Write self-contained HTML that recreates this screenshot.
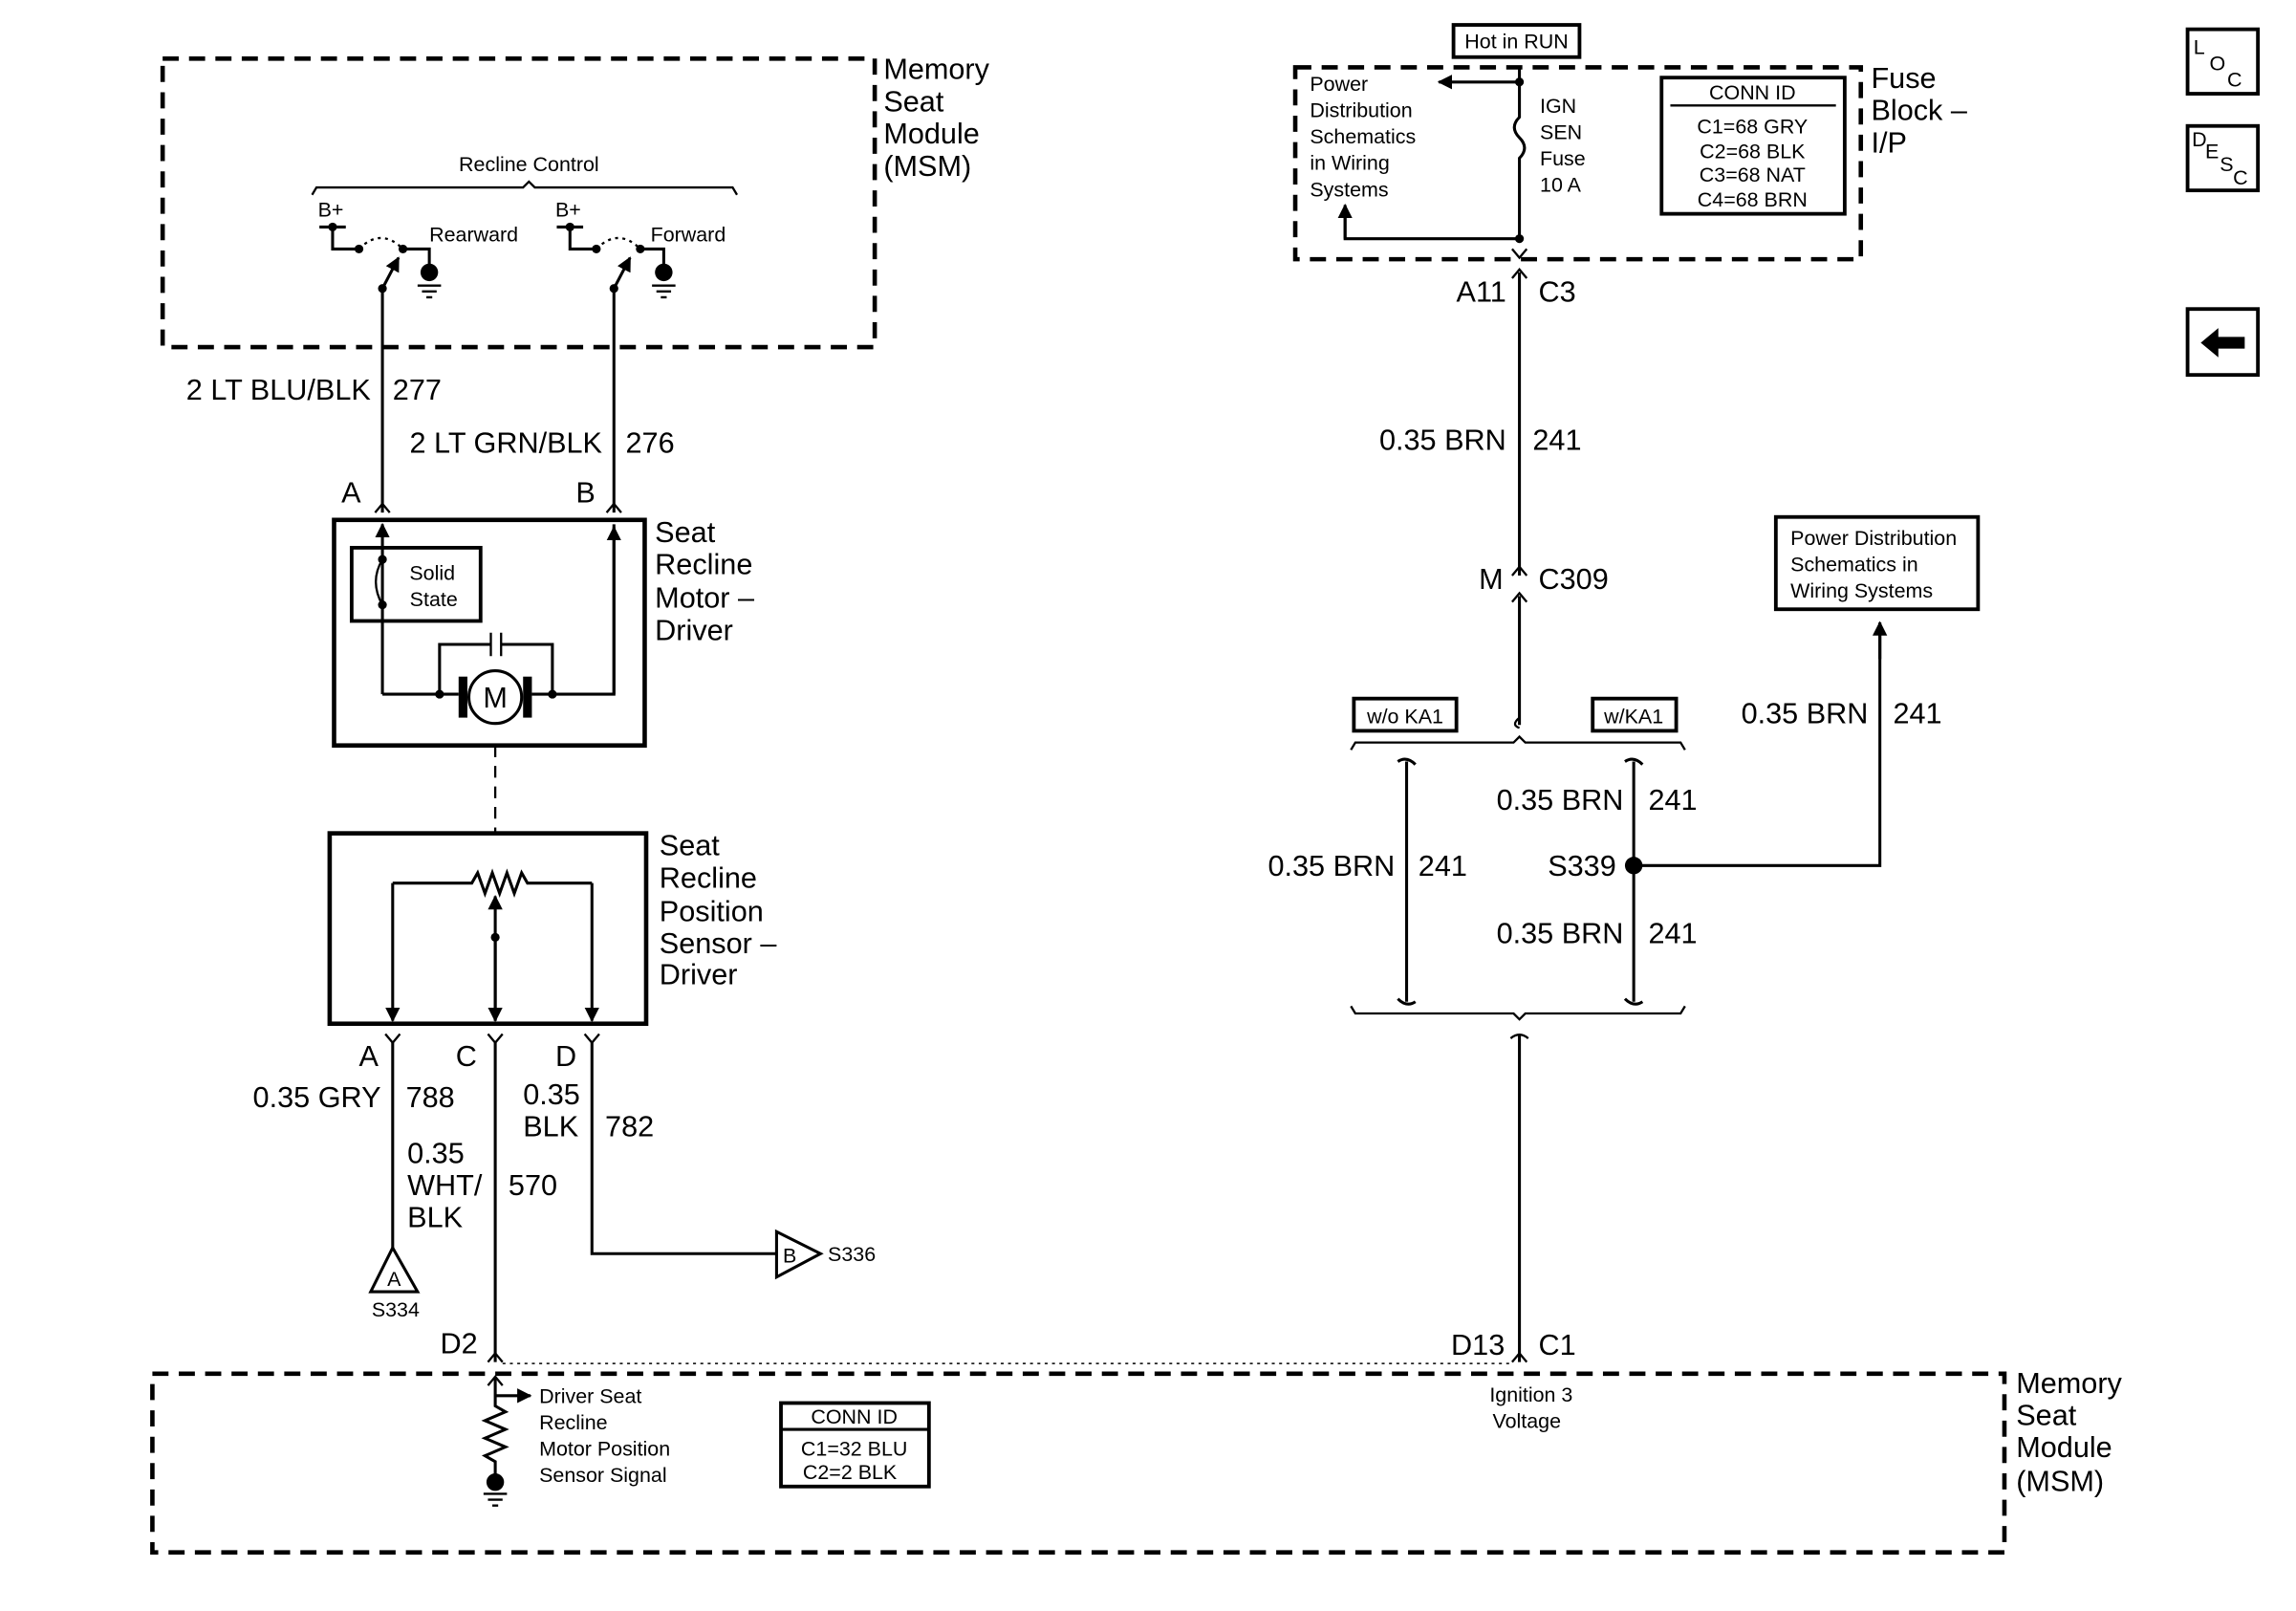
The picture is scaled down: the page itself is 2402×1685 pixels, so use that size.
<!DOCTYPE html>
<html><head><meta charset="utf-8"><style>
html,body{margin:0;padding:0;background:#fff;}
svg{display:block;}
text{font-family:"Liberation Sans",Arial,sans-serif;fill:#000;}
.L{font-size:20px;}
.S{font-size:14px;}
</style></head><body>
<svg width="2402" height="1685" viewBox="0 0 1567 1100" preserveAspectRatio="none" xmlns="http://www.w3.org/2000/svg">
<defs>
<marker id="ah" viewBox="0 0 10 10" refX="9" refY="5" markerWidth="5" markerHeight="5" orient="auto"><path d="M0,0L10,5L0,10z" fill="#000"/></marker>
</defs>
<g fill="none" stroke="#000" stroke-width="2">
<rect x="111" y="40" width="486" height="197" stroke-width="3" stroke-dasharray="11,7"/>
<path d="M213,133 L216,128 L357,128 L361,124 L365,128 L500,128 L503,133" stroke-width="1.5"/>
<path d="M218,155 L236,155 M227,155 L227,170 L245,170"/>
<path d="M245,170 Q260,155 275,170" stroke-dasharray="2,3" stroke-width="1.5"/>
<path d="M275,170 L293,170 L293,183"/>
<path d="M261,350 L261,197 L272,176" marker-end="url(#ah)"/>
<path d="M285,195 L301,195 M288,199 L298,199 M291,203 L295,203" stroke-width="1.5"/>
<path d="M380,155 L398,155 M389,155 L389,170 L407,170"/>
<path d="M407,170 Q422,155 437,170" stroke-dasharray="2,3" stroke-width="1.5"/>
<path d="M437,170 L453,170 L453,183"/>
<path d="M419,350 L419,197 L430,176" marker-end="url(#ah)"/>
<path d="M445,195 L461,195 M448,199 L458,199 M451,203 L455,203" stroke-width="1.5"/>
<path d="M256,350 L261,344 L266,350 M414,350 L419,344 L424,350" stroke-width="1.5"/>
<rect x="228" y="355" width="212" height="154" stroke-width="3"/>
<rect x="240" y="374" width="88" height="50" stroke-width="2.5"/>
<path d="M261,474 L261,358" marker-end="url(#ah)"/>
<path d="M261,382 Q252,397 261,413" stroke-width="1.5"/>
<path d="M261,474 L300,474 M300,474 L300,440 L335,440 M342,440 L377,440 L377,474 M377,474 L419,474 L419,358" />
<path d="M419,474 L419,360" marker-end="url(#ah)"/>
<path d="M335,432 L335,448 M342,432 L342,448" stroke-width="1.5"/>
<path d="M300,474 L313,474 M363,474 L377,474"/>
<path d="M338,509 L338,569" stroke-dasharray="8,6" stroke-width="1.5"/>
<rect x="225" y="569" width="216" height="130" stroke-width="3"/>
<path d="M268,603 L268,697" marker-end="url(#ah)"/>
<path d="M404,603 L404,697" marker-end="url(#ah)"/>
<path d="M268,603 L322,603 L326,596 L331,610 L336,596 L341,610 L346,596 L351,610 L356,596 L360,603 L404,603"/>
<path d="M338,697 L338,612" marker-end="url(#ah)"/>
<path d="M338,640 L338,697" marker-end="url(#ah)"/>
<path d="M263,706 L268,712 L273,706 M333,706 L338,712 L343,706 M399,706 L404,712 L409,706" stroke-width="1.5"/>
<path d="M268,712 L268,852 M404,712 L404,856 L530,856 M338,712 L338,930"/>
<path d="M268,852 L253,882 L285,882 Z"/>
<path d="M530,841 L560,856 L530,872 Z"/>
<path d="M333,930 L338,924 L343,930" stroke-width="1.5"/>
<path d="M343,931 L1033,931" stroke-dasharray="2,3" stroke-width="1"/>
<rect x="104" y="938" width="1264" height="122" stroke-width="3" stroke-dasharray="11,7"/>
<path d="M333,946 L338,940 L343,946" stroke-width="1.5"/>
<path d="M338,940 L338,960 L345,964 L331,970 L345,976 L331,982 L345,988 L331,994 L338,998 L338,1007"/>
<path d="M338,953 L362,953" marker-end="url(#ah)"/>
<path d="M330,1020 L346,1020 M333,1024 L343,1024 M336,1028 L340,1028" stroke-width="1.5"/>
<rect x="533" y="958" width="101" height="57" stroke-width="2.5"/>
<path d="M533,976 L634,976" stroke-width="2"/>
<rect x="884" y="46" width="386" height="131" stroke-width="3" stroke-dasharray="11,7"/>
<rect x="992" y="17" width="86" height="22" stroke-width="2.5"/>
<path d="M1037,46 L1037,56 L982,56" marker-end="url(#ah)"/>
<path d="M1037,56 L1037,80 Q1030,87 1037,94 Q1044,101 1037,108 L1037,163 L918,163 L918,142"/>
<path d="M918,163 L918,140" marker-end="url(#ah)"/>
<path d="M1032,170 L1037,176 L1042,170" stroke-width="1.5"/>
<rect x="1134" y="53" width="125" height="93" stroke-width="2.5"/>
<path d="M1140,72 L1253,72" stroke-width="1.5"/>
<path d="M1032,190 L1037,184 L1042,190" stroke-width="1.5"/>
<path d="M1037,186 L1037,393"/>
<path d="M1032,393 L1037,387 L1042,393 M1032,411 L1037,405 L1042,411" stroke-width="1.5"/>
<path d="M1037,407 L1037,495"/>
<path d="M1037,490 Q1031,495 1037,497" stroke-width="1.5"/>
<rect x="924" y="477" width="70" height="22" stroke-width="2.5"/>
<rect x="1087" y="477" width="57" height="22" stroke-width="2.5"/>
<path d="M922,512 L925,507 L1033,507 L1037,503 L1041,507 L1147,507 L1150,512" stroke-width="1.5"/>
<path d="M960,520 L960,684 M954,520 Q960,516 966,522 M954,682 Q960,688 966,684"/>
<path d="M1115,520 L1115,684 M1109,520 Q1115,516 1121,522 M1109,682 Q1115,688 1121,684"/>
<path d="M1115,591 L1283,591 L1283,427"/>
<path d="M1283,450 L1283,425" marker-end="url(#ah)"/>
<rect x="1212" y="353" width="138" height="63" stroke-width="2.5"/>
<path d="M922,687 L925,692 L1033,692 L1037,696 L1041,692 L1147,692 L1150,687" stroke-width="1.5"/>
<path d="M1031,709 Q1037,704 1043,709" stroke-width="1.5"/>
<path d="M1037,707 L1037,930"/>
<path d="M1032,930 L1037,924 L1042,930" stroke-width="1.5"/>
<rect x="1493" y="20" width="48" height="44" stroke-width="2.5"/>
<rect x="1493" y="86" width="48" height="44" stroke-width="2.5"/>
<rect x="1493" y="211" width="48" height="45" stroke-width="2.5"/>
</g>
<g fill="#000">
<circle cx="227" cy="155" r="3"/><circle cx="245" cy="170" r="3"/><circle cx="275" cy="170" r="3"/><circle cx="261" cy="197" r="3"/>
<circle cx="293" cy="186" r="6"/>
<circle cx="389" cy="155" r="3"/><circle cx="407" cy="170" r="3"/><circle cx="437" cy="170" r="3"/><circle cx="419" cy="197" r="3"/>
<circle cx="453" cy="186" r="6"/>
<circle cx="261" cy="382" r="3"/><circle cx="261" cy="413" r="3"/>
<circle cx="300" cy="474" r="3"/><circle cx="377" cy="474" r="3"/>
<rect x="313" y="462" width="6" height="28"/><rect x="357" y="462" width="6" height="28"/>
<circle cx="338" cy="640" r="3"/>
<circle cx="338" cy="1012" r="6"/>
<circle cx="1037" cy="56" r="3"/><circle cx="1037" cy="163" r="3"/>
<circle cx="1115" cy="591" r="6"/>
<path d="M1502,234 L1514,224 L1514,230 L1532,230 L1532,238 L1514,238 L1514,244 Z"/>
</g>
<circle cx="338" cy="476" r="18" fill="#fff" stroke="#000" stroke-width="2"/>
<text x="338" y="483" class="L" text-anchor="middle">M</text>
<g class="L">
<text x="603" y="54">Memory</text><text x="603" y="76">Seat</text><text x="603" y="98">Module</text><text x="603" y="120">(MSM)</text>
<text x="253" y="273" text-anchor="end">2 LT BLU/BLK</text><text x="268" y="273">277</text>
<text x="411" y="309" text-anchor="end">2 LT GRN/BLK</text><text x="427" y="309">276</text>
<text x="233" y="343">A</text><text x="393" y="343">B</text>
<text x="447" y="370">Seat</text><text x="447" y="392">Recline</text><text x="447" y="415">Motor –</text><text x="447" y="437">Driver</text>
<text x="450" y="584">Seat</text><text x="450" y="606">Recline</text><text x="450" y="629">Position</text><text x="450" y="651">Sensor –</text><text x="450" y="672">Driver</text>
<text x="245" y="728">A</text><text x="311" y="728">C</text><text x="379" y="728">D</text>
<text x="260" y="756" text-anchor="end">0.35 GRY</text><text x="277" y="756">788</text>
<text x="278" y="794">0.35</text><text x="278" y="816">WHT/</text><text x="278" y="838">BLK</text><text x="347" y="816">570</text>
<text x="357" y="754">0.35</text><text x="357" y="776">BLK</text><text x="413" y="776">782</text>
<text x="326" y="924" text-anchor="end">D2</text>
<text x="1376" y="951">Memory</text><text x="1376" y="973">Seat</text><text x="1376" y="995">Module</text><text x="1376" y="1018">(MSM)</text>
<text x="1277" y="60">Fuse</text><text x="1277" y="82">Block –</text><text x="1277" y="104">I/P</text>
<text x="1028" y="206" text-anchor="end">A11</text><text x="1050" y="206">C3</text>
<text x="1028" y="307" text-anchor="end">0.35 BRN</text><text x="1046" y="307">241</text>
<text x="1026" y="402" text-anchor="end">M</text><text x="1050" y="402">C309</text>
<text x="952" y="598" text-anchor="end">0.35 BRN</text><text x="968" y="598">241</text>
<text x="1108" y="553" text-anchor="end">0.35 BRN</text><text x="1125" y="553">241</text>
<text x="1103" y="598" text-anchor="end">S339</text>
<text x="1108" y="644" text-anchor="end">0.35 BRN</text><text x="1125" y="644">241</text>
<text x="1275" y="494" text-anchor="end">0.35 BRN</text><text x="1292" y="494">241</text>
<text x="1027" y="925" text-anchor="end">D13</text><text x="1050" y="925">C1</text>
</g>
<g class="S">
<text x="361" y="117" text-anchor="middle">Recline Control</text>
<text x="217" y="148">B+</text><text x="379" y="148">B+</text>
<text x="293" y="165">Rearward</text><text x="444" y="165">Forward</text>
<text x="295" y="396" text-anchor="middle">Solid</text><text x="296" y="414" text-anchor="middle">State</text>
<text x="269" y="878" text-anchor="middle">A</text>
<text x="270" y="899" text-anchor="middle">S334</text>
<text x="539" y="862" text-anchor="middle">B</text>
<text x="565" y="861">S336</text>
<text x="368" y="958">Driver Seat</text><text x="368" y="976">Recline</text><text x="368" y="994">Motor Position</text><text x="368" y="1012">Sensor Signal</text>
<text x="583" y="972" text-anchor="middle">CONN ID</text><text x="583" y="994" text-anchor="middle">C1=32 BLU</text><text x="580" y="1010" text-anchor="middle">C2=2 BLK</text>
<text x="1045" y="957" text-anchor="middle">Ignition 3</text><text x="1042" y="975" text-anchor="middle">Voltage</text>
<text x="1035" y="33" text-anchor="middle">Hot in RUN</text>
<text x="894" y="62">Power</text><text x="894" y="80">Distribution</text><text x="894" y="98">Schematics</text><text x="894" y="116">in Wiring</text><text x="894" y="134">Systems</text>
<text x="1051" y="77">IGN</text><text x="1051" y="95">SEN</text><text x="1051" y="113">Fuse</text><text x="1051" y="131">10 A</text>
<text x="1196" y="68" text-anchor="middle">CONN ID</text><text x="1196" y="91" text-anchor="middle">C1=68 GRY</text><text x="1196" y="108" text-anchor="middle">C2=68 BLK</text><text x="1196" y="124" text-anchor="middle">C3=68 NAT</text><text x="1196" y="141" text-anchor="middle">C4=68 BRN</text>
<text x="959" y="494" text-anchor="middle">w/o KA1</text><text x="1115" y="494" text-anchor="middle">w/KA1</text>
<text x="1222" y="372">Power Distribution</text><text x="1222" y="390">Schematics in</text><text x="1222" y="408">Wiring Systems</text>
<text x="1497" y="37">L</text><text x="1508" y="48">O</text><text x="1520" y="59">C</text>
<text x="1496" y="100">D</text><text x="1505" y="108">E</text><text x="1515" y="117">S</text><text x="1524" y="126">C</text>
</g>
</svg>
</body></html>
